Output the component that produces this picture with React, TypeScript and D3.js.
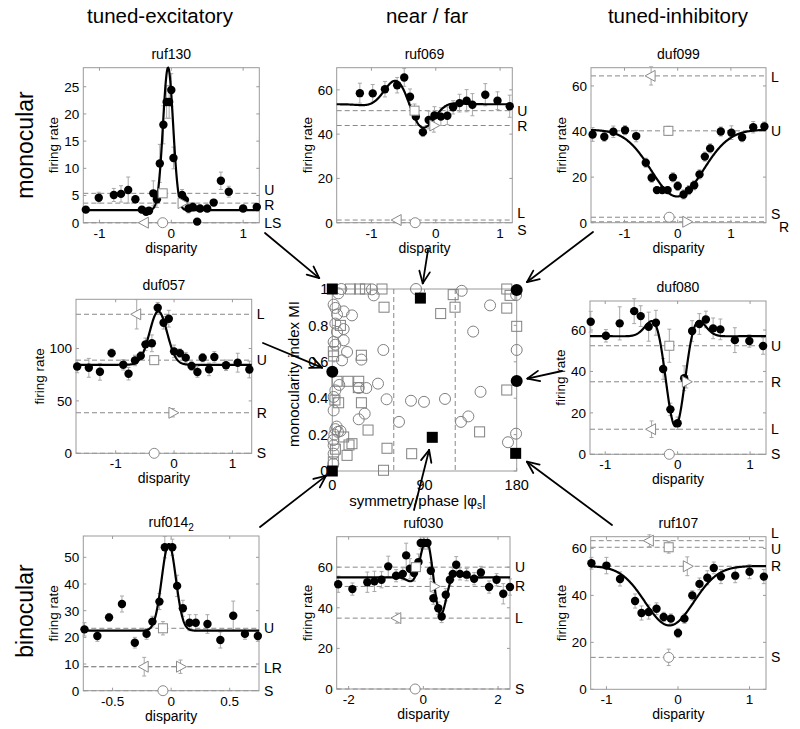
import React from "react";
import * as d3 from "d3";

const FONT = '"Liberation Sans", Arial, Helvetica, sans-serif';
const AX = "#9a9a9a";
const ERR = "#a8a8a8";
const MK = "#8a8a8a";

// ---------------- panel data ----------------
// fit parameters: [baseline, amplitude, centre, sigma, frequency, phase]
// mono markers: L, R, U, S as [disparity, rate, err]
// labels: [text, rate, x-offset]

const ruf130Disp = [-1.19, -1.01, -0.8, -0.7, -0.6, -0.5, -0.41, -0.35, -0.31, -0.25, -0.2, -0.16, -0.11, -0.065, -0.03, 0.0, 0.03, 0.15, 0.19, 0.24, 0.3, 0.36, 0.4, 0.5, 0.59, 0.69, 0.8, 1.0, 1.19];
const ruf130Rate = [2.4, 4.6, 5.1, 5.3, 6.0, 4.3, 2.4, 2.0, 2.2, 5.4, 4.3, 10.9, 18.0, 22.2, 22.2, 24.4, 11.9, 5.1, 4.2, 2.6, 2.9, 0.2, 2.6, 2.6, 3.7, 7.7, 5.7, 2.6, 2.9];
const ruf130Err = [0.4, 1.0, 1.2, 1.5, 2.4, 0.6, 0.6, 0.5, 0.6, 2.3, 1.5, 3.5, 3.5, 3.0, 3.0, 3.0, 2.0, 1.0, 0.8, 0.8, 0.8, 0.5, 0.6, 0.6, 0.6, 1.6, 1.0, 0.5, 0.5];
const ruf130Fit = [2.3, 26.2, -0.045, 0.07, 0, 0];
const ruf130Mono = [[-0.375, 0, 0], [0.15, 3.6, 0.5], [-0.12, 5.4, 0.6], [-0.12, 0, 0]];
const ruf130Labels: [string, number, number][] = [["U", 6.1, 0], ["R", 3.2, 0], ["LS", 0, 0]];

const ruf069Disp = [-1.18, -0.98, -0.79, -0.6, -0.49, -0.4, -0.31, -0.2, -0.11, -0.02, 0.08, 0.18, 0.27, 0.37, 0.48, 0.57, 0.77, 0.96, 1.15];
const ruf069Rate = [58.5, 58.4, 60.3, 62.1, 65.6, 56.9, 47.9, 40.9, 46.4, 48.4, 47.9, 48.3, 52.1, 54.0, 55.1, 53.3, 57.8, 55.1, 52.6];
const ruf069Err = [4.5, 4, 3.5, 3.5, 4, 3.5, 4, 2, 4, 4, 4, 4, 3, 4, 5, 5, 5, 4, 5];
const ruf069Fit = [53.5, 15.5, -0.41, 0.3, 0.8, Math.PI / 2];
const ruf069Mono = [[-0.6, 1.2, 0], [-0.03, 43.9, 3], [-0.33, 50.6, 3], [-0.32, 0, 0]];
const ruf069Labels: [string, number, number][] = [["U", 50.3, 0], ["R", 43.5, 0], ["L", 4.5, 0], ["S", -3.2, 0]];

const duf099Disp = [-1.6, -1.38, -1.21, -0.99, -0.78, -0.6, -0.49, -0.39, -0.29, -0.19, -0.09, 0.0, 0.11, 0.21, 0.31, 0.41, 0.51, 0.61, 0.81, 1.01, 1.21, 1.42, 1.63];
const duf099Rate = [38.7, 37.7, 39.9, 40.6, 38.0, 26.3, 19.7, 14.3, 14.3, 14.3, 19.9, 16.1, 12.4, 14.3, 16.4, 21.2, 29.0, 32.6, 40.0, 39.5, 37.5, 41.9, 42.2];
const duf099Err = [3, 2, 2.5, 2, 2.5, 2, 2, 1.5, 1.5, 1.5, 2, 2, 2, 2, 2, 2, 2, 2, 2, 3, 2, 2.5, 2];
const duf099Fit = [40.8, -29.3, -0.01, 0.49, 0, 0];
const duf099Mono = [[-0.5, 64.4, 4], [0.17, 0.4, 0], [-0.175, 40.3, 2], [-0.16, 2.4, 0]];
const duf099Labels: [string, number, number][] = [["L", 64, 0], ["U", 40.2, 0], ["S", 4.0, 0], ["R", -1.8, 8]];

const duf057Disp = [-1.66, -1.46, -1.27, -1.07, -0.87, -0.78, -0.67, -0.57, -0.49, -0.38, -0.28, -0.18, -0.09, 0.0, 0.1, 0.2, 0.3, 0.4, 0.49, 0.6, 0.69, 0.89, 1.09, 1.29];
const duf057Rate = [82.9, 81.6, 77.8, 95.6, 84.5, 76.0, 88.6, 93.0, 104, 105, 139, 124.6, 128.5, 97.3, 95.6, 91.3, 83.3, 77.6, 91.3, 80.1, 92, 84, 86.5, 80];
const duf057Err = [6, 9, 8, 4, 5, 6, 5, 4, 6, 8, 5, 6, 8, 6, 4, 5, 4, 5, 4, 6, 5, 5, 9, 8];
const duf057Fit = [84.5, 51, -0.27, 0.15, 0, 0];
const duf057Mono = [[-0.64, 132.7, 14], [-0.02, 38.7, 4], [-0.34, 88.9, 4], [-0.34, 0, 0]];
const duf057Labels: [string, number, number][] = [["L", 132.7, 0], ["U", 88.9, 0], ["R", 38.7, 0], ["S", 0, 0]];

const duf080Disp = [-1.2, -0.99, -0.8, -0.6, -0.51, -0.4, -0.3, -0.2, -0.1, 0.0, 0.09, 0.2, 0.3, 0.39, 0.49, 0.59, 0.79, 0.99, 1.18];
const duf080Rate = [64, 57.2, 63.2, 69.1, 66.7, 61.6, 63.5, 41.2, 21.7, 15.0, 36.7, 59.5, 62.9, 65.1, 60.8, 60.3, 55.1, 54.7, 52.3];
const duf080Err = [5, 3, 8, 6, 5, 7, 6, 5, 3, 3, 6, 5, 5, 4, 5, 5, 6, 3, 4];
const duf080Fit = [57, -43.5, -0.03, 0.2, 1.1, 0];
const duf080Mono = [[-0.36, 12.1, 4], [0.12, 35, 3], [-0.115, 52.4, 8], [-0.115, 0, 0]];
const duf080Labels: [string, number, number][] = [["U", 52.4, 0], ["R", 35, 0], ["L", 12.1, 0], ["S", 0, 0]];

const ruf014Disp = [-0.74, -0.63, -0.53, -0.42, -0.31, -0.21, -0.16, -0.1, -0.054, 0.01, 0.051, 0.1, 0.157, 0.21, 0.31, 0.42, 0.53, 0.63, 0.74];
const ruf014Rate = [23, 20.5, 27.5, 32.5, 18, 21.3, 25.9, 33.4, 53.8, 53.8, 39.3, 30.9, 25.5, 25.5, 25, 19, 28.1, 21.3, 20.5];
const ruf014Err = [2.5, 2, 1.5, 3, 2, 2, 2, 3, 4, 3, 4, 3, 3, 3, 3.5, 3, 5.5, 2, 2];
const ruf014Fit = [22.5, 32.5, -0.02, 0.06, 0, 0];
const ruf014Mono = [[-0.23, 9, 3.5], [0.08, 9, 2.5], [-0.07, 23.4, 2.5], [-0.07, 0, 0]];
const ruf014Labels: [string, number, number][] = [["U", 23.4, 0], ["LR", 8.4, 0], ["S", 0, 0]];

const ruf030Disp = [-2.28, -1.9, -1.5, -1.31, -1.12, -0.94, -0.73, -0.55, -0.46, -0.36, -0.25, -0.13, -0.07, 0.02, 0.11, 0.2, 0.27, 0.4, 0.49, 0.6, 0.71, 0.79, 0.88, 0.98, 1.16, 1.36, 1.54, 1.76, 1.96, 2.14, 2.32];
const ruf030Rate = [51.6, 49.2, 52.6, 53, 53.8, 60.4, 55.8, 56.7, 65.8, 59.2, 57.1, 62.5, 71.9, 71.9, 71.9, 58.2, 44.7, 39.8, 35.7, 46.4, 53.8, 56.7, 61.2, 56.7, 56.3, 54.3, 57.4, 50.2, 53.8, 46.9, 50.2];
const ruf030Err = [4, 3, 5, 5, 4, 5, 3, 3, 6, 5, 4, 4, 3, 3, 3, 4, 3, 3, 3, 3, 3, 3, 4, 3, 3, 3, 3, 3, 3, 5, 4];
const ruf030Fit = [55, 24, 0.27, 0.3, 1.0, Math.PI / 2];
const ruf030Mono = [[-0.71, 34.9, 2.5], [0.29, 50.5, 2], [-0.2, 60, 2.5], [-0.22, 0, 0]];
const ruf030Labels: [string, number, number][] = [["U", 60, 0], ["R", 50.5, 0], ["L", 34.9, 0], ["S", 0, 0]];

const ruf107Disp = [-1.21, -1.0, -0.81, -0.6, -0.51, -0.41, -0.3, -0.2, -0.1, 0.0, 0.09, 0.2, 0.3, 0.41, 0.5, 0.6, 0.8, 1.0, 1.2];
const ruf107Rate = [53.7, 52.7, 47.0, 37.6, 32.5, 32.9, 34.3, 30.8, 30.1, 24.0, 30.1, 40.0, 44.9, 47.5, 51.7, 48.0, 48.4, 50.1, 48.0];
const ruf107Err = [2.5, 3.5, 3, 3, 3, 3, 2.5, 2, 2, 2, 2, 2, 2.5, 3, 2.5, 3, 3, 3, 3];
const ruf107Fit = [52.5, -25.3, -0.12, 0.34, 0, 0];
const ruf107Mono = [[-0.4, 63.3, 2.5], [0.13, 52.4, 4], [-0.13, 60.5, 2.5], [-0.13, 13.6, 3.5]];
const ruf107Labels: [string, number, number][] = [["L", 66.8, 0], ["U", 59.6, 0], ["R", 52.4, 0], ["S", 13.6, 0]];

// ---------------- population scatter (|phase|, MI) ----------------
const popCircles: [number, number][] = [
  [5.9, 0.976], [8.8, 1.0], [38.7, 0.998], [40.4, 0.965], [81.7, 1.0], [126.3, 0.99], [179.4, 0.967],
  [1.3, 0.914], [3, 0.896], [4.6, 0.86], [11.1, 0.877], [19.2, 0.855], [3, 0.81], [11.1, 0.78], [4.6, 0.764],
  [154, 0.91], [137.5, 0.766], [11.1, 0.718], [1.3, 0.709], [3, 0.694], [14.4, 0.654], [9.5, 0.608],
  [28.4, 0.612], [49.8, 0.665], [180, 0.665], [25.8, 0.456], [33.2, 0.456], [44.6, 0.48], [3, 0.443],
  [6.8, 0.473], [1.3, 0.407], [1.3, 0.333], [31.6, 0.315], [25.8, 0.284], [53, 0.394], [76.8, 0.386],
  [89.5, 0.38], [110, 0.396], [65.1, 0.27], [125.6, 0.27], [132.8, 0.3], [144.7, 0.435], [3, 0.23],
  [5.5, 0.215], [8, 0.22], [2, 0.2], [4.2, 0.244], [1.3, 0.141], [1.3, 0.095], [1, 0.17], [179.4, 0.205],
  [171.5, 0.158], [1, 0.04],
];
const popSquares: [number, number][] = [
  [17.6, 1], [26.7, 1], [32.3, 1], [48.5, 1], [50.5, 0.9], [118, 0.969], [119.8, 0.9], [105.8, 0.865],
  [170.3, 1.0], [173.5, 0.965], [170.3, 0.895], [180, 0.795], [7.9, 0.8], [1.3, 0.632], [28.4, 0.636],
  [1, 0.656], [4.6, 0.493], [15.3, 0.493], [25.8, 0.493], [25.4, 0.458], [6.2, 0.375], [28.4, 0.375],
  [2.6, 0.39], [170.3, 0.445], [34.9, 0.225], [11.1, 0.187], [19.2, 0.15], [14.4, 0.086], [16.3, 0.143],
  [53.4, 0.125], [77.5, 0.095], [143.8, 0.215], [50, 0.004], [1, 0.05], [3, 0.12],
];
const popFilledSquares: [number, number][] = [[0, 1], [0, 0], [86, 0.95], [97.6, 0.185], [179, 0.097]];
const popFilledCircles: [number, number][] = [[0, 0.545], [180, 0.995], [180, 0.495]];

const phaseTicks = [0, 90, 180];
const miTicks = [0, 0.2, 0.4, 0.6, 0.8, 1];
const phaseBounds = [60, 120];

const columnTitles = ["tuned-excitatory", "near / far", "tuned-inhibitory"];
const rowTitles = ["monocular", "binocular"];

// ---------------- layout ----------------
type Spec = {
  name: string; sub?: string;
  box: [number, number, number, number];
  xDomain: [number, number]; yDomain: [number, number];
  xTicks: number[]; yTicks: number[];
  disp: number[]; rate: number[]; err: number[]; fit: number[];
  mono: number[][]; labels: [string, number, number][];
};

const panels: Spec[] = [
  { name: "ruf130", box: [83.3, 67.7, 259.3, 222.7], xDomain: [-1.225, 1.225], yDomain: [0, 28.5], xTicks: [-1, 0, 1], yTicks: [0, 5, 10, 15, 20, 25], disp: ruf130Disp, rate: ruf130Rate, err: ruf130Err, fit: ruf130Fit, mono: ruf130Mono, labels: ruf130Labels },
  { name: "ruf069", box: [336.7, 67.7, 512.3, 222.7], xDomain: [-1.54, 1.19], yDomain: [0, 70], xTicks: [-1, 0, 1], yTicks: [0, 20, 40, 60], disp: ruf069Disp, rate: ruf069Rate, err: ruf069Err, fit: ruf069Fit, mono: ruf069Mono, labels: ruf069Labels },
  { name: "duf099", box: [591, 67.7, 766, 222.7], xDomain: [-1.63, 1.66], yDomain: [0, 68], xTicks: [-1, 0, 1], yTicks: [0, 20, 40, 60], disp: duf099Disp, rate: duf099Rate, err: duf099Err, fit: duf099Fit, mono: duf099Mono, labels: duf099Labels },
  { name: "duf057", box: [76, 299.3, 251.7, 453.3], xDomain: [-1.68, 1.33], yDomain: [0, 147], xTicks: [-1, 0, 1], yTicks: [0, 50, 100], disp: duf057Disp, rate: duf057Rate, err: duf057Err, fit: duf057Fit, mono: duf057Mono, labels: duf057Labels },
  { name: "duf080", box: [590, 301, 766, 454.3], xDomain: [-1.21, 1.22], yDomain: [0, 74], xTicks: [-1, 0, 1], yTicks: [0, 20, 40, 60], disp: duf080Disp, rate: duf080Rate, err: duf080Err, fit: duf080Fit, mono: duf080Mono, labels: duf080Labels },
  { name: "ruf014", sub: "2", box: [83.3, 536, 259, 690.7], xDomain: [-0.75, 0.75], yDomain: [0, 58], xTicks: [-0.5, 0, 0.5], yTicks: [0, 10, 20, 30, 40, 50], disp: ruf014Disp, rate: ruf014Rate, err: ruf014Err, fit: ruf014Fit, mono: ruf014Mono, labels: ruf014Labels },
  { name: "ruf030", box: [336.7, 536.7, 510, 689], xDomain: [-2.32, 2.32], yDomain: [0, 75], xTicks: [-2, 0, 2], yTicks: [0, 20, 40, 60], disp: ruf030Disp, rate: ruf030Rate, err: ruf030Err, fit: ruf030Fit, mono: ruf030Mono, labels: ruf030Labels },
  { name: "ruf107", box: [590.7, 536.7, 766, 689.3], xDomain: [-1.22, 1.23], yDomain: [0, 65], xTicks: [-1, 0, 1], yTicks: [0, 20, 40, 60], disp: ruf107Disp, rate: ruf107Rate, err: ruf107Err, fit: ruf107Fit, mono: ruf107Mono, labels: ruf107Labels },
];

const centerBox: [number, number, number, number] = [332.3, 289, 516.7, 471];

const arrowSpecs = [
  { from: [265, 233], to: popFilledSquares[0], gap: 17 },
  { from: [428, 250], to: popFilledSquares[2], gap: 15 },
  { from: [593, 232], to: popFilledCircles[1], gap: 13 },
  { from: [263, 343], to: popFilledCircles[0], gap: 11 },
  { from: [562, 371], to: popFilledCircles[2], gap: 11 },
  { from: [260, 527], to: popFilledSquares[1], gap: 8 },
  { from: [414, 510], to: popFilledSquares[3], gap: 13 },
  { from: [612, 525], to: popFilledSquares[4], gap: 14 },
];

const gabor = (p: number[]) => (x: number) => {
  const [b, a, x0, s, f, ph] = p;
  const d = x - x0;
  return b + a * Math.exp(-(d * d) / (2 * s * s)) * Math.cos(2 * Math.PI * f * d + ph);
};

function MonoMarker({ kind, cx, cy }: { kind: number; cx: number; cy: number }) {
  const common = { fill: "#fff", stroke: MK, strokeWidth: 1 };
  if (kind === 0) return <path d={`M${cx - 6},${cy} L${cx + 4},${cy - 5.5} L${cx + 4},${cy + 5.5} Z`} {...common} />;
  if (kind === 1) return <path d={`M${cx + 6},${cy} L${cx - 4},${cy - 5.5} L${cx - 4},${cy + 5.5} Z`} {...common} />;
  if (kind === 2) return <rect x={cx - 4.5} y={cy - 4.5} width={9} height={9} {...common} />;
  return <circle cx={cx} cy={cy} r={5} {...common} />;
}

function Panel({ p }: { p: Spec }) {
  const [l, t, r, b] = p.box;
  const x = d3.scaleLinear().domain(p.xDomain).range([l, r]);
  const y = d3.scaleLinear().domain(p.yDomain).range([b, t]);
  const fn = gabor(p.fit);
  const xs = d3.range(0, 501).map((i) => p.xDomain[0] + ((p.xDomain[1] - p.xDomain[0]) * i) / 500);
  const line = d3.line<number>().x((v) => x(v)).y((v) => y(Math.min(p.yDomain[1], fn(v))));
  const maxChars = d3.max(p.yTicks, (v) => String(v).length) || 2;
  const ylabX = l - 4 - maxChars * 7.2 - 10 + 3.5;
  const cap = 2;
  return (
    <g>
      {p.mono.map((m, i) => (
        <line key={"d" + i} x1={l} x2={r} y1={y(m[1])} y2={y(m[1])} stroke="#888" strokeWidth={1} strokeDasharray="5,3" />
      ))}
      <rect x={l} y={t} width={r - l} height={b - t} fill="none" stroke={AX} strokeWidth={1} />
      {p.yTicks.map((v) => (
        <g key={"yt" + v}>
          <line x1={l} x2={l + 3} y1={y(v)} y2={y(v)} stroke={AX} />
          <line x1={r - 3} x2={r} y1={y(v)} y2={y(v)} stroke={AX} />
          <text x={l - 4} y={y(v)} dy="0.36em" textAnchor="end" fontSize={13.5}>{String(v)}</text>
        </g>
      ))}
      {p.xTicks.map((v) => (
        <g key={"xt" + v}>
          <line x1={x(v)} x2={x(v)} y1={b} y2={b - 3} stroke={AX} />
          <line x1={x(v)} x2={x(v)} y1={t} y2={t + 3} stroke={AX} />
          <text x={x(v)} y={b + 15} textAnchor="middle" fontSize={13.5}>{String(v)}</text>
        </g>
      ))}
      {p.disp.map((d, i) => (
        <g key={"e" + i} stroke={ERR} strokeWidth={1}>
          <line x1={x(d)} x2={x(d)} y1={y(p.rate[i] - p.err[i])} y2={y(p.rate[i] + p.err[i])} />
          <line x1={x(d) - cap} x2={x(d) + cap} y1={y(p.rate[i] + p.err[i])} y2={y(p.rate[i] + p.err[i])} />
          <line x1={x(d) - cap} x2={x(d) + cap} y1={y(p.rate[i] - p.err[i])} y2={y(p.rate[i] - p.err[i])} />
        </g>
      ))}
      {p.mono.map((m, i) =>
        m[2] > 0 ? (
          <g key={"me" + i} stroke={ERR} strokeWidth={1}>
            <line x1={x(m[0])} x2={x(m[0])} y1={y(m[1] - m[2])} y2={y(m[1] + m[2])} />
            <line x1={x(m[0]) - cap} x2={x(m[0]) + cap} y1={y(m[1] + m[2])} y2={y(m[1] + m[2])} />
            <line x1={x(m[0]) - cap} x2={x(m[0]) + cap} y1={y(m[1] - m[2])} y2={y(m[1] - m[2])} />
          </g>
        ) : null
      )}
      <path d={line(xs) || ""} fill="none" stroke="#000" strokeWidth={2.2} />
      {p.disp.map((d, i) => (
        <circle key={"p" + i} cx={x(d)} cy={y(p.rate[i])} r={4.2} fill="#000" />
      ))}
      {p.mono.map((m, i) => (
        <MonoMarker key={"m" + i} kind={i} cx={x(m[0])} cy={y(m[1])} />
      ))}
      {p.labels.map(([s, v, dx], i) => (
        <text key={"l" + i} x={r + 5 + dx} y={y(v)} dy="0.36em" fontSize={14}>{s}</text>
      ))}
      <text x={(l + r) / 2} y={t - 9} textAnchor="middle" fontSize={14}>
        {p.name}
        {p.sub ? <tspan dy={4} fontSize={10}>{p.sub}</tspan> : null}
      </text>
      <text x={(l + r) / 2} y={b + 30} textAnchor="middle" fontSize={14}>disparity</text>
      <text transform={`translate(${ylabX},${(t + b) / 2}) rotate(-90)`} textAnchor="middle" fontSize={13.5}>firing rate</text>
    </g>
  );
}

function Center() {
  const [l, t, r, b] = centerBox;
  const x = d3.scaleLinear().domain([0, 180]).range([l, r]);
  const y = d3.scaleLinear().domain([0, 1]).range([b, t]);
  return (
    <g>
      <rect x={l} y={t} width={r - l} height={b - t} fill="none" stroke={AX} />
      {phaseBounds.map((v) => (
        <line key={"pb" + v} x1={x(v)} x2={x(v)} y1={t} y2={b} stroke="#888" strokeDasharray="5,3" />
      ))}
      {miTicks.map((v) => (
        <g key={"my" + v}>
          <line x1={l} x2={l + 3} y1={y(v)} y2={y(v)} stroke={AX} />
          <line x1={r - 3} x2={r} y1={y(v)} y2={y(v)} stroke={AX} />
          <text x={l - 4} y={y(v)} dy="0.36em" textAnchor="end" fontSize={14.5}>{String(v)}</text>
        </g>
      ))}
      {phaseTicks.map((v) => (
        <g key={"px" + v}>
          <line x1={x(v)} x2={x(v)} y1={b} y2={b - 3} stroke={AX} />
          <line x1={x(v)} x2={x(v)} y1={t} y2={t + 3} stroke={AX} />
          <text x={x(v)} y={b + 19} textAnchor="middle" fontSize={14.5}>{String(v)}</text>
        </g>
      ))}
      {popCircles.map((d, i) => (
        <circle key={"c" + i} cx={x(d[0])} cy={y(d[1])} r={5.5} fill="none" stroke="#808080" strokeWidth={1} />
      ))}
      {popSquares.map((d, i) => (
        <rect key={"s" + i} x={x(d[0]) - 5} y={y(d[1]) - 5} width={10} height={10} fill="none" stroke="#808080" strokeWidth={1} />
      ))}
      {popFilledSquares.map((d, i) => (
        <rect key={"fs" + i} x={x(d[0]) - 5.5} y={y(d[1]) - 5.5} width={11} height={11} fill="#000" />
      ))}
      {popFilledCircles.map((d, i) => (
        <circle key={"fc" + i} cx={x(d[0])} cy={y(d[1])} r={6} fill="#000" />
      ))}
      <text transform={`translate(${l - 33},${(t + b) / 2 - 6}) rotate(-90)`} textAnchor="middle" fontSize={15}>monocularity index MI</text>
      <text x={(l + r) / 2 - 7} y={b + 35} textAnchor="middle" fontSize={15}>
        symmetry/phase |φ<tspan dy={3} fontSize={10}>s</tspan><tspan dy={-3}>|</tspan>
      </text>
      {arrowSpecs.map((a, i) => {
        const tx = x(a.to[0]);
        const ty = y(a.to[1]);
        const dx = tx - a.from[0];
        const dy = ty - a.from[1];
        const len = Math.hypot(dx, dy);
        const ux = dx / len, uy = dy / len;
        const ex = tx - ux * a.gap, ey = ty - uy * a.gap;
        const ang = Math.atan2(uy, ux);
        const hl = 13, ha = (24 * Math.PI) / 180;
        const h1 = [ex - hl * Math.cos(ang - ha), ey - hl * Math.sin(ang - ha)];
        const h2 = [ex - hl * Math.cos(ang + ha), ey - hl * Math.sin(ang + ha)];
        return (
          <g key={"a" + i} stroke="#000" strokeWidth={1.8} strokeLinecap="round">
            <line x1={a.from[0]} y1={a.from[1]} x2={ex} y2={ey} />
            <line x1={ex} y1={ey} x2={h1[0]} y2={h1[1]} />
            <line x1={ex} y1={ey} x2={h2[0]} y2={h2[1]} />
          </g>
        );
      })}
    </g>
  );
}

export default function App() {
  return (
    <svg
      width={800}
      height={729}
      viewBox="0 0 800 729"
      style={{ position: "absolute", left: 0, top: 0, background: "#fff" }}
      fontFamily={FONT}
    >
      <rect x={0} y={0} width={800} height={729} fill="#fff" />
      <text x={160} y={23} textAnchor="middle" fontSize={20.5}>{columnTitles[0]}</text>
      <text x={427} y={23} textAnchor="middle" fontSize={20.5}>{columnTitles[1]}</text>
      <text x={678} y={23} textAnchor="middle" fontSize={20.5}>{columnTitles[2]}</text>
      <text transform="translate(33,145) rotate(-90)" textAnchor="middle" fontSize={23}>{rowTitles[0]}</text>
      <text transform="translate(33,611) rotate(-90)" textAnchor="middle" fontSize={23}>{rowTitles[1]}</text>
      {panels.map((p) => (
        <Panel key={p.name} p={p} />
      ))}
      <Center />
    </svg>
  );
}
